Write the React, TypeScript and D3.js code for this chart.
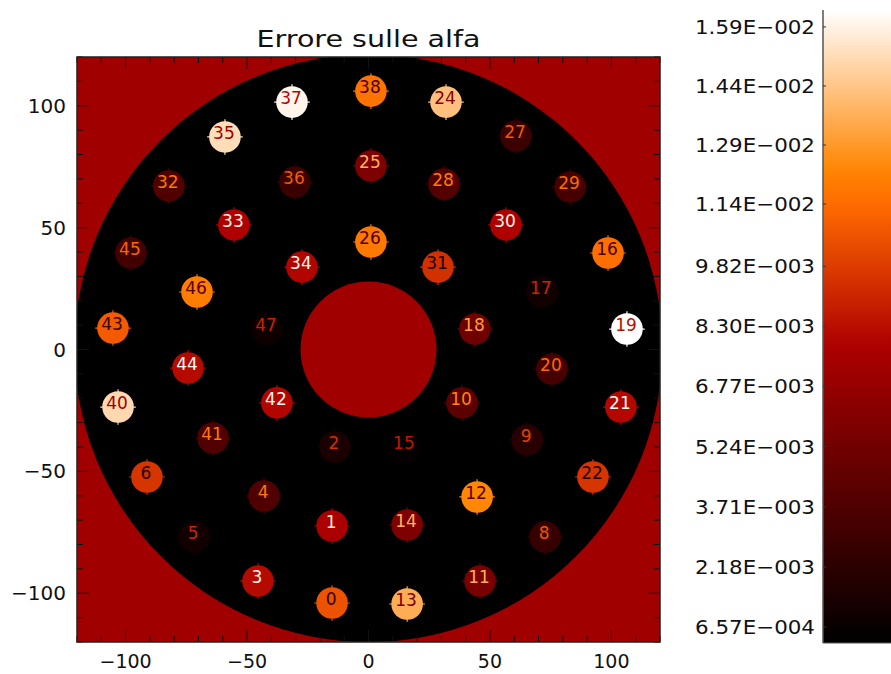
import React from 'react';
import * as d3 from 'd3';

const title = 'Errore sulle alfa';
const pointIds = [0, 1, 2, 3, 4, 5, 6, 8, 9, 10, 11, 12, 13, 14, 15, 16, 17, 18, 19, 20, 21, 22, 24, 25, 26, 27, 28, 29, 30, 31, 32, 33, 34, 35, 36, 37, 38, 40, 41, 42, 43, 44, 45, 46, 47];
const pointX = [-15.0, -15.0, -13.8, -45.5, -43.0, -71.8, -91.2, 72.7, 65.3, 38.5, 45.9, 44.7, 15.9, 15.9, 15.0, 98.6, 71.4, 43.8, 106.4, 75.5, 103.9, 92.4, 31.9, 1.0, 1.0, 60.7, 31.1, 83.0, 56.6, 28.6, -82.2, -55.4, -27.4, -59.1, -30.3, -31.5, 1.0, -103.1, -64.0, -37.7, -105.2, -74.3, -97.8, -70.6, -41.8];
const pointY = [-104.0, -72.4, -40.0, -95.0, -60.1, -76.9, -52.3, -76.9, -37.1, -21.9, -95.0, -60.5, -104.4, -72.0, -40.0, 39.6, 23.6, 8.4, 8.4, -8.0, -23.6, -52.3, 101.5, 75.3, 44.1, 87.6, 67.9, 66.7, 51.1, 33.8, 67.1, 51.1, 33.8, 87.2, 68.7, 101.5, 106.0, -23.6, -36.3, -21.9, 8.8, -7.6, 39.6, 23.6, 8.4];
const pointErr = [0.01054, 0.00765, 0.00138, 0.00813, 0.00379, 0.00105, 0.00958, 0.00266, 0.00202, 0.00427, 0.00556, 0.01231, 0.0136, 0.00572, 0.00057, 0.01151, 0.00105, 0.00507, 0.01633, 0.00331, 0.00805, 0.00958, 0.01424, 0.00572, 0.01183, 0.00282, 0.00395, 0.00331, 0.00781, 0.00942, 0.00379, 0.00781, 0.00797, 0.0152, 0.00282, 0.01601, 0.01167, 0.01504, 0.00379, 0.00797, 0.01086, 0.00813, 0.00314, 0.01199, 0.00089];
const xTicks = [-100, -50, 0, 50, 100];
const yTicks = [-100, -50, 0, 50, 100];
const cbTicks = [6.57e-4, 2.18e-3, 3.71e-3, 5.24e-3, 6.77e-3, 8.30e-3, 9.82e-3, 1.14e-2, 1.29e-2, 1.44e-2, 1.59e-2];
const cbDomain = [0.000251, 0.01633];
const axisDomain = [-120, 120];

const W = 891, H = 674;
const plot = { left: 77, right: 660, top: 57, bottom: 642 };
const cb = { left: 823, right: 891, top: 10, bottom: 643 };

function redTemp(t: number): string {
  const c = Math.max(0, Math.min(1, t));
  const r = Math.min(1, c / 0.69);
  const g = Math.max(0, Math.min(1, (c - 0.47) / 0.53));
  const b = Math.max(0, Math.min(1, (c - 0.745) / 0.255));
  return d3.rgb(r * 255, g * 255, b * 255).formatHex();
}

function fmtE(v: number): string {
  const e = Math.floor(Math.log10(v));
  const m = v / Math.pow(10, e);
  const sign = e < 0 ? '\u2212' : '+';
  return `${m.toFixed(2)}E${sign}${String(Math.abs(e)).padStart(3, '0')}`;
}

export default function App() {
  const x = d3.scaleLinear().domain(axisDomain).range([plot.left, plot.right]);
  const y = d3.scaleLinear().domain(axisDomain).range([plot.bottom, plot.top]);
  const tScale = d3.scaleLinear().domain(cbDomain).range([0, 1]).clamp(true);
  const cbY = d3.scaleLinear().domain(cbDomain).range([cb.bottom, cb.top]);
  const rPx = x(6.5) - x(0);
  const minor = d3.range(-120, 121, 10);
  const font = 'DejaVu Sans, sans-serif';
  const stops = d3.range(0, 1.0001, 0.02);

  return (
    <svg width={W} height={H} style={{ position: 'absolute', left: 0, top: 0, background: '#fff' }}>
      <defs>
        <clipPath id="plotClip">
          <rect x={plot.left} y={plot.top} width={plot.right - plot.left} height={plot.bottom - plot.top} />
        </clipPath>
        <linearGradient id="cbGrad" x1="0" y1="1" x2="0" y2="0">
          {stops.map((s) => (
            <stop key={s} offset={s} stopColor={redTemp(s)} />
          ))}
        </linearGradient>
      </defs>
      <rect x={0} y={0} width={W} height={H} fill="#fff" />
      <text x={(plot.left + plot.right) / 2} y={47} textAnchor="middle" fontFamily={font} fontSize={23} fill="#111" textLength={224} lengthAdjust="spacingAndGlyphs">{title}</text>
      <g clipPath="url(#plotClip)">
        <rect x={plot.left} y={plot.top} width={plot.right - plot.left} height={plot.bottom - plot.top} fill="#a00000" />
        <circle cx={x(0)} cy={y(0.5)} r={x(121) - x(0)} fill="#000" />
        <circle cx={x(0)} cy={y(0)} r={x(28) - x(0)} fill="#a00000" />
        {pointIds.map((id, i) => {
          const t = tScale(pointErr[i]);
          const fill = redTemp(t);
          const lab = redTemp((t + 0.5) % 1);
          const cx = x(pointX[i]);
          const cy = y(pointY[i]);
          return (
            <g key={id}>
              <line x1={cx - rPx - 2} x2={cx + rPx + 2} y1={cy} y2={cy} stroke={fill} strokeWidth={1.2} />
              <line x1={cx} x2={cx} y1={cy - rPx - 2} y2={cy + rPx + 2} stroke={fill} strokeWidth={1.2} />
              <circle cx={cx} cy={cy} r={rPx} fill={fill} />
              <text x={cx - 1} y={cy - 4} textAnchor="middle" dominantBaseline="central" fontFamily={font} fontSize={17} fill={lab}>{id}</text>
            </g>
          );
        })}
      </g>
      <g stroke="#111" strokeWidth={1}>
        {minor.map((v) => {
          const len = v % 50 === 0 ? 12 : 6;
          return (
            <g key={'t' + v}>
              <line x1={x(v)} x2={x(v)} y1={plot.bottom} y2={plot.bottom - len} />
              <line x1={x(v)} x2={x(v)} y1={plot.top} y2={plot.top + len} />
              <line x1={plot.left} x2={plot.left + len} y1={y(v)} y2={y(v)} />
              <line x1={plot.right} x2={plot.right - len} y1={y(v)} y2={y(v)} />
            </g>
          );
        })}
      </g>
      <rect x={plot.left} y={plot.top} width={plot.right - plot.left} height={plot.bottom - plot.top} fill="none" stroke="#222" strokeWidth={1.5} />
      {xTicks.map((v) => (
        <text key={'xl' + v} x={x(v)} y={668} textAnchor="middle" fontFamily={font} fontSize={19} fill="#111">{v < 0 ? '\u2212' + Math.abs(v) : String(v)}</text>
      ))}
      {yTicks.map((v) => (
        <text key={'yl' + v} x={66} y={y(v)} textAnchor="end" dominantBaseline="central" fontFamily={font} fontSize={20} fill="#111">{v < 0 ? '\u2212' + Math.abs(v) : String(v)}</text>
      ))}
      <rect x={cb.left} y={cb.top} width={cb.right - cb.left} height={cb.bottom - cb.top} fill="url(#cbGrad)" />
      <line x1={cb.left} x2={cb.left} y1={cb.top} y2={cb.bottom} stroke="#555" strokeWidth={1.5} />
      <line x1={cb.left} x2={cb.right} y1={cb.bottom} y2={cb.bottom} stroke="#555" strokeWidth={1} />
      {cbTicks.map((v) => (
        <g key={'cb' + v}>
          <line x1={cb.left} x2={cb.left + 3} y1={cbY(v)} y2={cbY(v)} stroke="#333" strokeWidth={1} />
          <text x={815} y={cbY(v)} textAnchor="end" dominantBaseline="central" fontFamily={font} fontSize={20} fill="#111" textLength={120} lengthAdjust="spacingAndGlyphs">{fmtE(v)}</text>
        </g>
      ))}
    </svg>
  );
}
